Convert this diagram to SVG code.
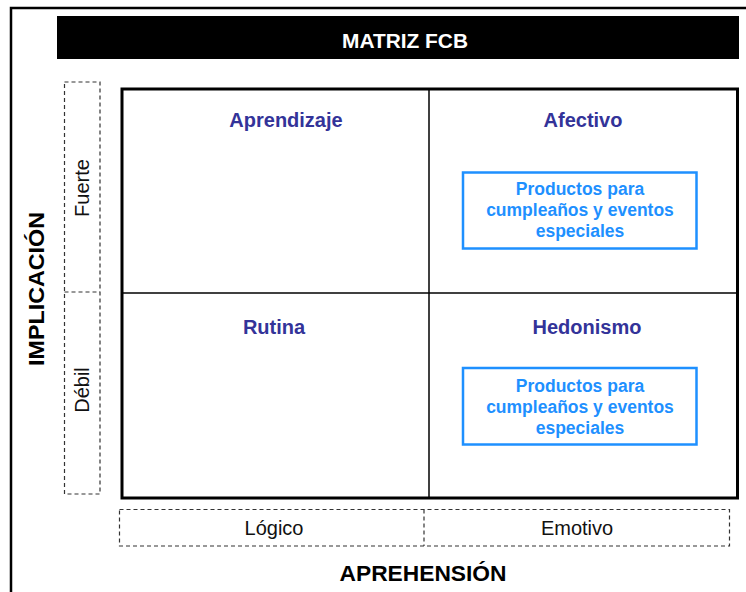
<svg xmlns="http://www.w3.org/2000/svg" width="746" height="592" viewBox="0 0 746 592">
<style>
.frame{fill:none;stroke:#000;stroke-width:3}
.dash{fill:none;stroke:#333;stroke-width:1.2;stroke-dasharray:4,3}
.q{font-family:"Liberation Sans",Arial,sans-serif;font-weight:bold;font-size:20px;fill:#333399;text-anchor:middle}
.p{font-family:"Liberation Sans",Arial,sans-serif;font-weight:bold;font-size:17.5px;fill:#1E90FF;text-anchor:middle}
.lbl{font-family:"Liberation Sans",Arial,sans-serif;font-size:20px;fill:#111;text-anchor:middle}
.axis{font-family:"Liberation Sans",Arial,sans-serif;font-weight:bold;font-size:22px;fill:#000;text-anchor:middle}
.pbox{fill:#fff;stroke:#1E90FF;stroke-width:2.5}
</style>
<rect width="746" height="592" fill="#fff"/>
<g id="outer">
<path d="M11,592 V8 H746" fill="none" stroke="#000" stroke-width="2.5"/>
</g>
<g id="title">
<rect x="57" y="16" width="682" height="43" fill="#000"/>
<text x="405" y="48" font-family="'Liberation Sans',Arial,sans-serif" font-weight="bold" font-size="20" fill="#fff" text-anchor="middle" textLength="126" lengthAdjust="spacingAndGlyphs">MATRIZ FCB</text>
</g>
<g id="matrix">
<rect x="122" y="89" width="615.5" height="409" class="frame"/>
<line x1="429" y1="89" x2="429" y2="498" stroke="#000" stroke-width="1.5"/>
<line x1="122" y1="293" x2="737.5" y2="293" stroke="#000" stroke-width="1.5"/>
</g>
<g id="q-aprendizaje"><text class="q" x="286" y="127">Aprendizaje</text></g>
<g id="q-afectivo"><text class="q" x="583" y="127">Afectivo</text></g>
<g id="q-rutina"><text class="q" x="274" y="334">Rutina</text></g>
<g id="q-hedonismo"><text class="q" x="587" y="334">Hedonismo</text></g>
<g id="box-afectivo">
<rect class="pbox" x="463" y="172.5" width="233.5" height="76"/>
<text class="p" x="580" y="195">Productos para</text>
<text class="p" x="580" y="216">cumpleaños y eventos</text>
<text class="p" x="580" y="237">especiales</text>
</g>
<g id="box-hedonismo">
<rect class="pbox" x="463" y="368" width="233.5" height="76.5"/>
<text class="p" x="580" y="392">Productos para</text>
<text class="p" x="580" y="413">cumpleaños y eventos</text>
<text class="p" x="580" y="434">especiales</text>
</g>
<g id="y-axis">
<rect class="dash" x="64.5" y="82" width="35.5" height="412"/>
<line class="dash" x1="64.5" y1="292" x2="100" y2="292"/>
<text class="lbl" transform="translate(89,188) rotate(-90)">Fuerte</text>
<text class="lbl" transform="translate(89,390) rotate(-90)">Débil</text>
<text class="axis" transform="translate(44,289) rotate(-90)" textLength="154" lengthAdjust="spacingAndGlyphs">IMPLICACIÓN</text>
</g>
<g id="x-axis">
<rect class="dash" x="119.5" y="509.5" width="610" height="36.5"/>
<line class="dash" x1="424" y1="509.5" x2="424" y2="546"/>
<text class="lbl" x="274" y="535">Lógico</text>
<text class="lbl" x="577" y="535">Emotivo</text>
<text class="axis" x="423" y="581" textLength="167" lengthAdjust="spacingAndGlyphs">APREHENSIÓN</text>
</g>
</svg>
